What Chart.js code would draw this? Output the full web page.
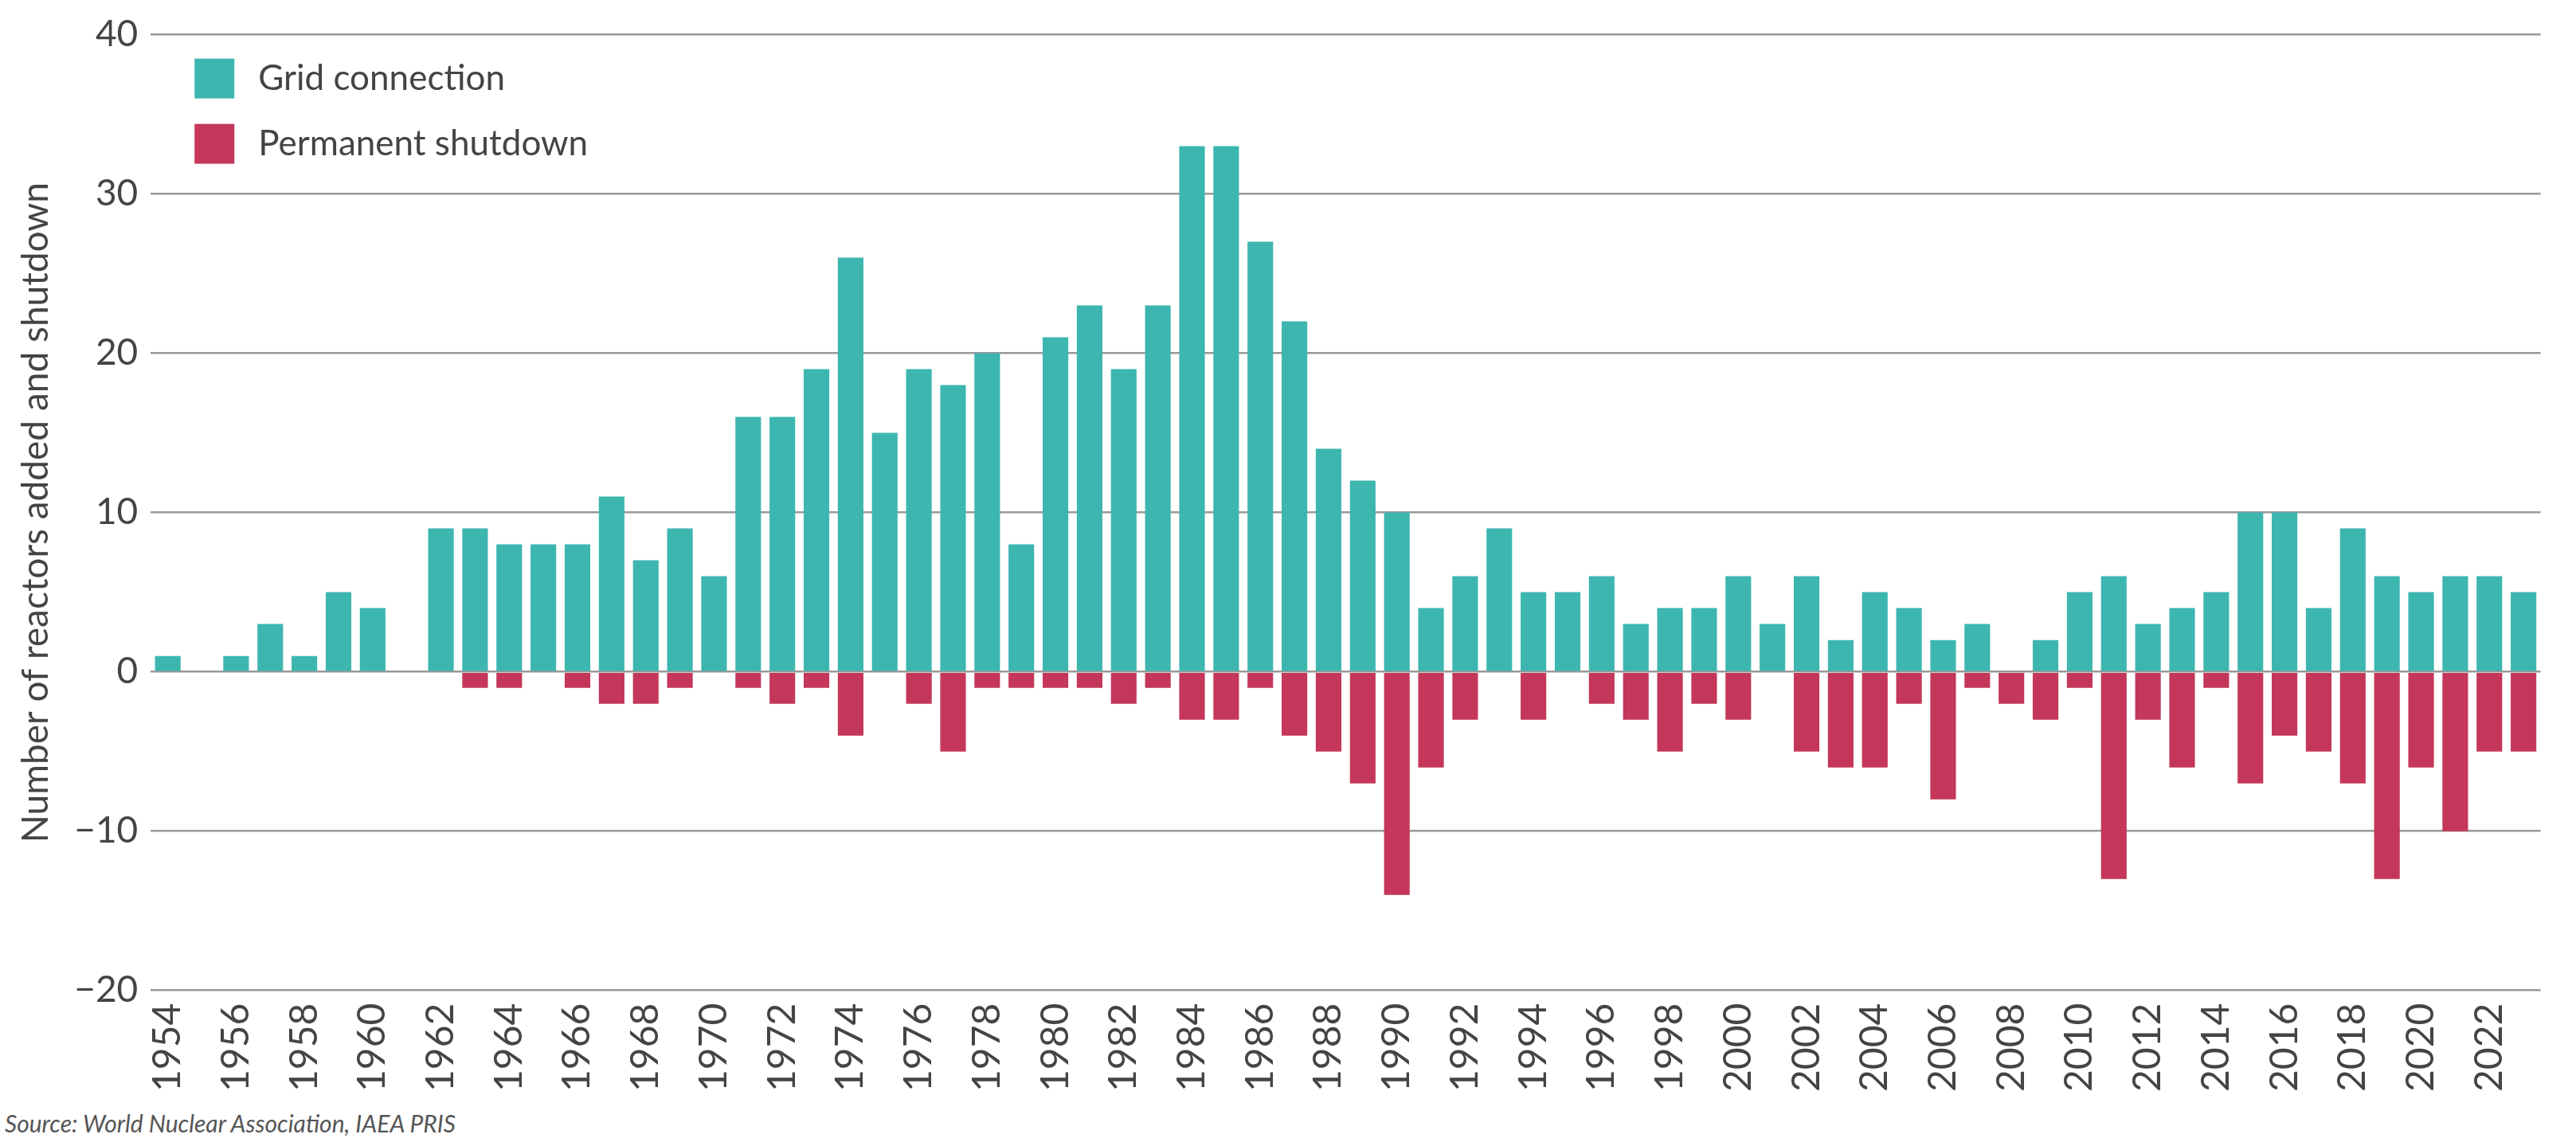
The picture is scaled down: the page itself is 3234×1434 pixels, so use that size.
<!DOCTYPE html>
<html><head><meta charset="utf-8">
<script src="https://cdn.jsdelivr.net/npm/chart.js@4"></script>
<style>html,body{margin:0;padding:0;background:#fff}#w{position:relative;width:3234px;height:1434px}
#src{position:absolute;left:6px;top:1392px;font:italic 30px Lato, "Open Sans", sans-serif;color:#555}</style>
</head><body><div id="w"><canvas id="c" width="3234" height="1385"></canvas><div id="src">Source: World Nuclear Association, IAEA PRIS</div></div>
<script>
const years=[];for(let y=1954;y<=2023;y++)years.push(String(y));
const gridConnection=[1,0,1,3,1,5,4,0,9,9,8,8,8,11,7,9,6,16,16,19,26,15,19,18,20,8,21,23,19,23,33,33,27,22,14,12,10,4,6,9,5,5,6,3,4,4,6,3,6,2,5,4,2,3,0,2,5,6,3,4,5,10,10,4,9,6,5,6,6,5];
const permanentShutdown=[0,0,0,0,0,0,0,0,0,-1,-1,0,-1,-2,-2,-1,0,-1,-2,-1,-4,0,-2,-5,-1,-1,-1,-1,-2,-1,-3,-3,-1,-4,-5,-7,-14,-6,-3,0,-3,0,-2,-3,-5,-2,-3,0,-5,-6,-6,-2,-8,-1,-2,-3,-1,-13,-3,-6,-1,-7,-4,-5,-7,-13,-6,-10,-5,-5];
const yTicks=[-20,-10,0,10,20,30,40];
const F='Lato, "Open Sans", sans-serif';
const legendPlugin={id:'lg',afterDraw(ch){const c=ch.ctx,a=ch.chartArea;c.save();c.font='44px '+F;c.textBaseline='middle';
ch.data.datasets.forEach((d,i)=>{const x=a.left+55,y=a.top+55+i*82;c.fillStyle=d.backgroundColor;c.fillRect(x,y-25,50,50);c.fillStyle='#444';c.fillText(d.label,x+80,y);});c.restore();}};
new Chart(document.getElementById('c'),{type:'bar',
data:{labels:years,datasets:[{label:'Grid connection',data:gridConnection,backgroundColor:'#3db6b0'},{label:'Permanent shutdown',data:permanentShutdown,backgroundColor:'#c4375a'}]},
options:{responsive:false,animation:false,layout:{padding:{top:30,right:40,left:14,bottom:6}},
plugins:{legend:{display:false},tooltip:{enabled:false}},
datasets:{bar:{categoryPercentage:0.75,barPercentage:1}},
scales:{x:{stacked:true,grid:{display:false},border:{display:false},
ticks:{autoSkip:false,minRotation:90,maxRotation:90,padding:8,color:'#444',font:{family:F,size:48},callback:(v,i)=>i%2===0?years[i]:''}},
y:{stacked:true,min:-20,max:40,afterBuildTicks:s=>{s.ticks=yTicks.map(v=>({value:v}));},
grid:{color:'#999',lineWidth:2.5,drawTicks:false},border:{display:false},
ticks:{padding:16,color:'#444',font:{family:F,size:46},callback:v=>v<0?'\u2212'+Math.abs(v):v},
title:{display:true,text:'Number of reactors added and shutdown',color:'#444',font:{family:F,size:46}}}}},
plugins:[legendPlugin]});
</script></body></html>
